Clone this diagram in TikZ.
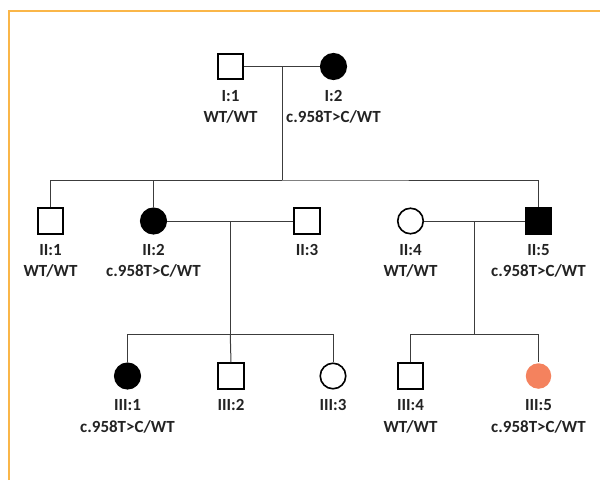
\documentclass[tikz,border=0pt]{standalone}
\usepackage{fontspec}
\setmainfont{Carlito}
\usetikzlibrary{calc}
\definecolor{frameorange}{RGB}{250,182,72}
\definecolor{salmon}{RGB}{244,130,94}
\definecolor{linegray}{RGB}{60,60,60}
\definecolor{txtgray}{RGB}{35,35,35}
\begin{document}
\begin{tikzpicture}[x=1pt,y=-1pt,
  male/.style={rectangle, draw=black, line width=1.6pt, minimum size=25.5pt, inner sep=0pt},
  female/.style={circle, draw=black, line width=1.6pt, minimum size=25.5pt, inner sep=0pt},
  aff/.style={fill=black},
  lbl/.style={font=\bfseries\fontsize{17}{20}\selectfont, text=txtgray, anchor=base, inner sep=0pt},
  conn/.style={draw=linegray, line width=1pt},
  frame/.style={draw=frameorange, line width=1.5pt}]
\useasboundingbox (0,0) rectangle (600,480);
\draw[frame] (9,480) -- (9,11) -- (600,11);

% Generation I
\node[male] (i1) at (230.5,66.5) {};
\node[female,aff] (i2) at (333.5,66.5) {};
\node[lbl] (i1a) at (230.5,101.5) {I:1};
\node[lbl] (i1b) at (230.5,122.5) {WT/WT};
\node[lbl] (i2a) at (333.5,101.5) {I:2};
\node[lbl] (i2b) at (333.5,122.5) {c.958T>C/WT};

% Generation II
\node[male] (ii1) at (50.5,221) {};
\node[female,aff] (ii2) at (153.5,221) {};
\node[male] (ii3) at (307,221) {};
\node[female] (ii4) at (410.5,221) {};
\node[male,aff] (ii5) at (538.5,221) {};
\node[lbl] (ii1a) at (50.5,255.5) {II:1};
\node[lbl] (ii1b) at (50.5,276) {WT/WT};
\node[lbl] (ii2a) at (153.5,255.5) {II:2};
\node[lbl] (ii2b) at (153.5,276) {c.958T>C/WT};
\node[lbl] (ii3a) at (307,255.5) {II:3};
\node[lbl] (ii4a) at (410.5,255.5) {II:4};
\node[lbl] (ii4b) at (410.5,276) {WT/WT};
\node[lbl] (ii5a) at (538.5,255.5) {II:5};
\node[lbl] (ii5b) at (538.5,276) {c.958T>C/WT};

% Generation III
\node[female,aff] (iii1) at (127.5,376) {};
\node[male] (iii2) at (231,376) {};
\node[female] (iii3) at (333,376) {};
\node[male] (iii4) at (410.5,376) {};
\node[female,draw=none,fill=salmon] (iii5) at (538.5,376) {};
\node[lbl] (iii1a) at (127.5,410) {III:1};
\node[lbl] (iii1b) at (127.5,432) {c.958T>C/WT};
\node[lbl] (iii2a) at (231,410) {III:2};
\node[lbl] (iii3a) at (333,410) {III:3};
\node[lbl] (iii4a) at (410.5,410) {III:4};
\node[lbl] (iii4b) at (410.5,432) {WT/WT};
\node[lbl] (iii5a) at (538.5,410) {III:5};
\node[lbl] (iii5b) at (538.5,432) {c.958T>C/WT};

% Coordinates
\coordinate (m1) at ($(i1.east)!0.5!(i2.west)$);
\coordinate (s1) at (m1 |- 0,180);
\coordinate (m2) at ($(ii2.east)!0.5!(ii3.west)$);
\coordinate (s2) at (m2 |- 0,334.5);
\coordinate (m3) at ($(ii4.east)!0.5!(ii5.west)$);
\coordinate (s3) at (m3 |- 0,334.5);

% Connectors
\draw[conn] (i1.east) -- (i2.west);
\draw[conn] (m1) -- (s1);
\draw[conn] (ii1.north) |- (s1) -| (ii5.north);
\draw[conn] (ii2.north) |- (s1);
\draw[conn] (ii2.east) -- (ii3.west);
\draw[conn] (m2) -- (s2);
\draw[conn] (iii1.north) |- (s2) -| (iii3.north);
\draw[conn] (iii2.north) -- (s2);
\draw[conn] (ii4.east) -- (ii5.west);
\draw[conn] (m3) -- (s3);
\draw[conn] (iii4.north) |- (s3) -| (iii5.north);
\end{tikzpicture}
\end{document}
